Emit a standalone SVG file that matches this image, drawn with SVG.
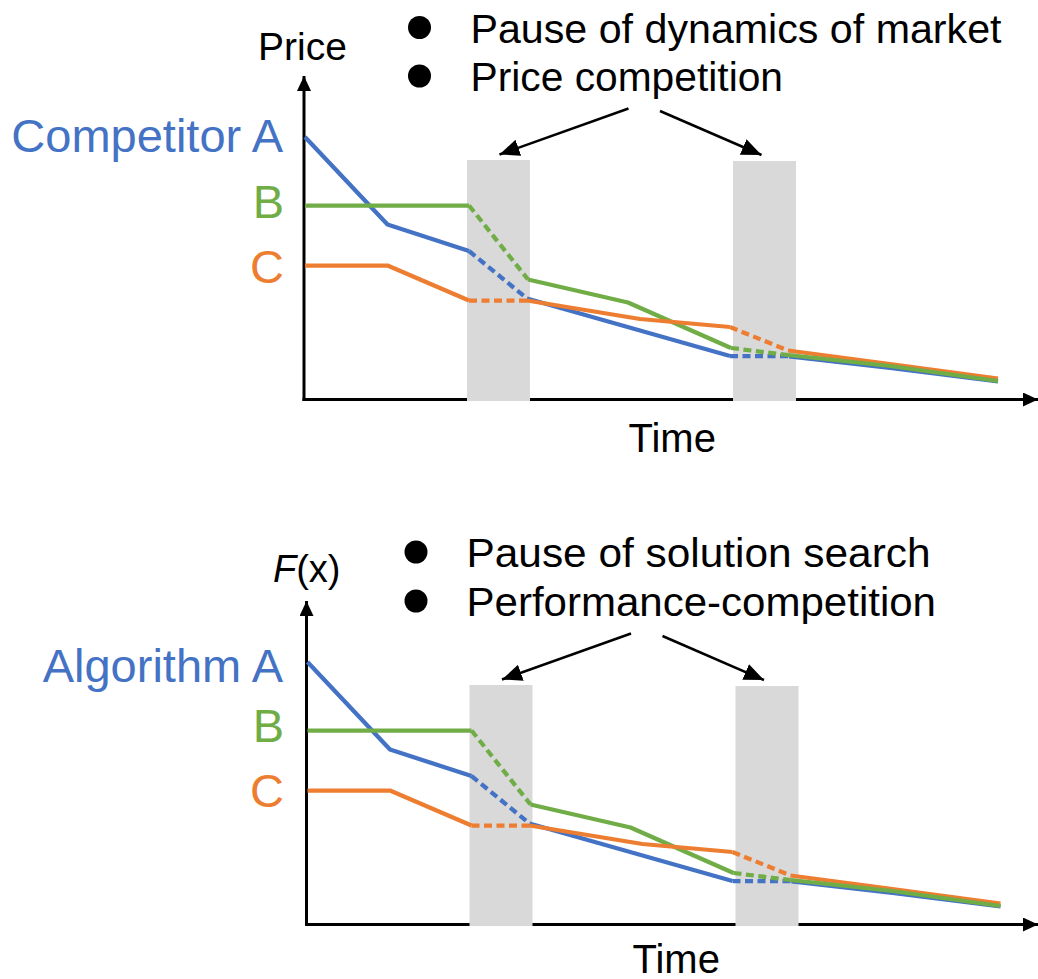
<svg xmlns="http://www.w3.org/2000/svg" width="1038" height="979" viewBox="0 0 1038 979">
  <style>
    .t { font-family: "Liberation Sans", Arial, sans-serif; fill: #000; }
    .lbl { font-family: "Liberation Sans", Arial, sans-serif; font-size: 47px; text-anchor: end; }
    .blue { stroke: #4472C4; }
    .green { stroke: #70AD47; }
    .orange { stroke: #ED7D31; }
    .ln { fill: none; stroke-width: 4.25; stroke-linejoin: round; }
    .dash { stroke-dasharray: 8 4.5; }
    .axis { stroke: #000; stroke-width: 3; fill: none; marker-end: url(#axhead); }
    .call { stroke: #000; stroke-width: 2.5; fill: none; marker-end: url(#callhead); }
    .pause { fill: #D9D9D9; }
  </style>
  <defs>
    <marker id="axhead" markerUnits="userSpaceOnUse" viewBox="0 0 15 14" refX="15" refY="7" markerWidth="15" markerHeight="14" orient="auto">
      <path d="M0,0 L15,7 L0,14 Z" fill="#000"/>
    </marker>
    <marker id="callhead" markerUnits="userSpaceOnUse" viewBox="0 0 20 17" refX="20" refY="8.5" markerWidth="20" markerHeight="17" orient="auto">
      <path d="M0,0 L20,8.5 L0,17 Z" fill="#000"/>
    </marker>
  </defs>
  <rect width="1038" height="979" fill="#fff"/>

  <!-- TOP CHART -->
  <g id="chart-top">
    <g id="axes-top">
      <line class="axis" x1="304" y1="401" x2="304" y2="76"/>
      <line class="axis" x1="302.5" y1="399.5" x2="1038" y2="399.5"/>
    </g>
    <g id="pauses-top">
      <rect class="pause" x="467" y="160" width="63" height="241"/>
      <rect class="pause" x="733" y="161" width="63" height="240"/>
    </g>
    <g id="series-top">
      <polyline class="ln blue" points="305,137 387.5,224.5 469,251"/>
      <polyline class="ln blue dash" points="469,251 527,298.5"/>
      <polyline class="ln blue" points="527,298.5 730,356"/>
      <polyline class="ln green" points="305,205.5 469,205.5"/>
      <polyline class="ln green dash" points="469,205.5 528,279.5"/>
      <polyline class="ln green" points="528,279.5 628,302.5 731,348"/>
      <polyline class="ln orange" points="305,265.5 387.5,265.5 469,300.5"/>
      <polyline class="ln orange dash" points="469,300.5 527,300.5"/>
      <polyline class="ln orange" points="527,300.5 640,319 730,327"/>
      <polyline class="ln blue dash" points="730,356 789,356"/>
      <polyline class="ln green dash" points="731,348 788,355"/>
      <polyline class="ln orange dash" points="730,327 788,350.5"/>
      <polyline class="ln blue" points="789,356.5 890,368 998,381.5"/>
      <polyline class="ln orange" points="788,350.5 890,364 998,378.5"/>
      <polyline class="ln green" points="788,355 890,366 998,381"/>
    </g>
    <g id="labels-top">
      <text class="t" x="258" y="60" font-size="39">Price</text>
      <text class="t" x="628.5" y="451.7" font-size="40">Time</text>
      <text class="lbl" x="283" y="151.7" fill="#4472C4">Competitor A</text>
      <text class="lbl" x="284" y="218.3" fill="#70AD47">B</text>
      <text class="lbl" x="284" y="282.7" fill="#ED7D31">C</text>
    </g>
    <g id="bullets-top">
      <circle cx="419.5" cy="27.5" r="11.5" fill="#000"/>
      <text class="t" x="470.5" y="43" font-size="40" textLength="531" lengthAdjust="spacingAndGlyphs">Pause of dynamics of market</text>
      <circle cx="419.5" cy="76" r="11.5" fill="#000"/>
      <text class="t" x="470.5" y="91" font-size="40" textLength="312.5" lengthAdjust="spacingAndGlyphs">Price competition</text>
    </g>
  </g>

  <!-- BOTTOM CHART -->
  <g id="chart-bottom">
    <g id="axes-bottom" transform="translate(2.5,525)">
      <line class="axis" x1="304" y1="401" x2="304" y2="76"/>
      <line class="axis" x1="302.5" y1="399.5" x2="1035.5" y2="399.5"/>
    </g>
    <g id="pauses-bottom" transform="translate(2.5,525)">
      <rect class="pause" x="467" y="160" width="63" height="241"/>
      <rect class="pause" x="733" y="161" width="63" height="240"/>
    </g>
    <g id="series-bottom" transform="translate(2.5,525)">
      <polyline class="ln blue" points="305,137 387.5,224.5 469,251"/>
      <polyline class="ln blue dash" points="469,251 527,298.5"/>
      <polyline class="ln blue" points="527,298.5 730,356"/>
      <polyline class="ln green" points="305,205.5 469,205.5"/>
      <polyline class="ln green dash" points="469,205.5 528,279.5"/>
      <polyline class="ln green" points="528,279.5 628,302.5 731,348"/>
      <polyline class="ln orange" points="305,265.5 387.5,265.5 469,300.5"/>
      <polyline class="ln orange dash" points="469,300.5 527,300.5"/>
      <polyline class="ln orange" points="527,300.5 640,319 730,327"/>
      <polyline class="ln blue dash" points="730,356 789,356"/>
      <polyline class="ln green dash" points="731,348 788,355"/>
      <polyline class="ln orange dash" points="730,327 788,350.5"/>
      <polyline class="ln blue" points="789,356.5 890,368 998,381.5"/>
      <polyline class="ln orange" points="788,350.5 890,364 998,378.5"/>
      <polyline class="ln green" points="788,355 890,366 998,381"/>
    </g>
    <g id="labels-bottom">
      <text class="t" x="273" y="581.7" font-size="38"><tspan font-style="italic">F</tspan>(x)</text>
      <text class="t" x="632.5" y="973" font-size="40">Time</text>
      <text class="lbl" x="283" y="681.7" fill="#4472C4">Algorithm A</text>
      <text class="lbl" x="284" y="741.7" fill="#70AD47">B</text>
      <text class="lbl" x="284" y="806.7" fill="#ED7D31">C</text>
    </g>
    <g id="bullets-bottom">
      <circle cx="416" cy="552" r="11.5" fill="#000"/>
      <text class="t" x="466.5" y="567" font-size="40" textLength="464" lengthAdjust="spacingAndGlyphs">Pause of solution search</text>
      <circle cx="416" cy="601" r="11.5" fill="#000"/>
      <text class="t" x="466.5" y="616" font-size="40" textLength="469.5" lengthAdjust="spacingAndGlyphs">Performance-competition</text>
    </g>
  </g>

  <!-- CONNECTORS -->
  <g id="connectors">
    <line class="call" x1="628.5" y1="108.5" x2="499.5" y2="154.5"/>
    <line class="call" x1="660" y1="111" x2="761.5" y2="155"/>
    <line class="call" x1="631" y1="633.5" x2="502" y2="679.5"/>
    <line class="call" x1="662.5" y1="636" x2="764" y2="680"/>
  </g>
</svg>
